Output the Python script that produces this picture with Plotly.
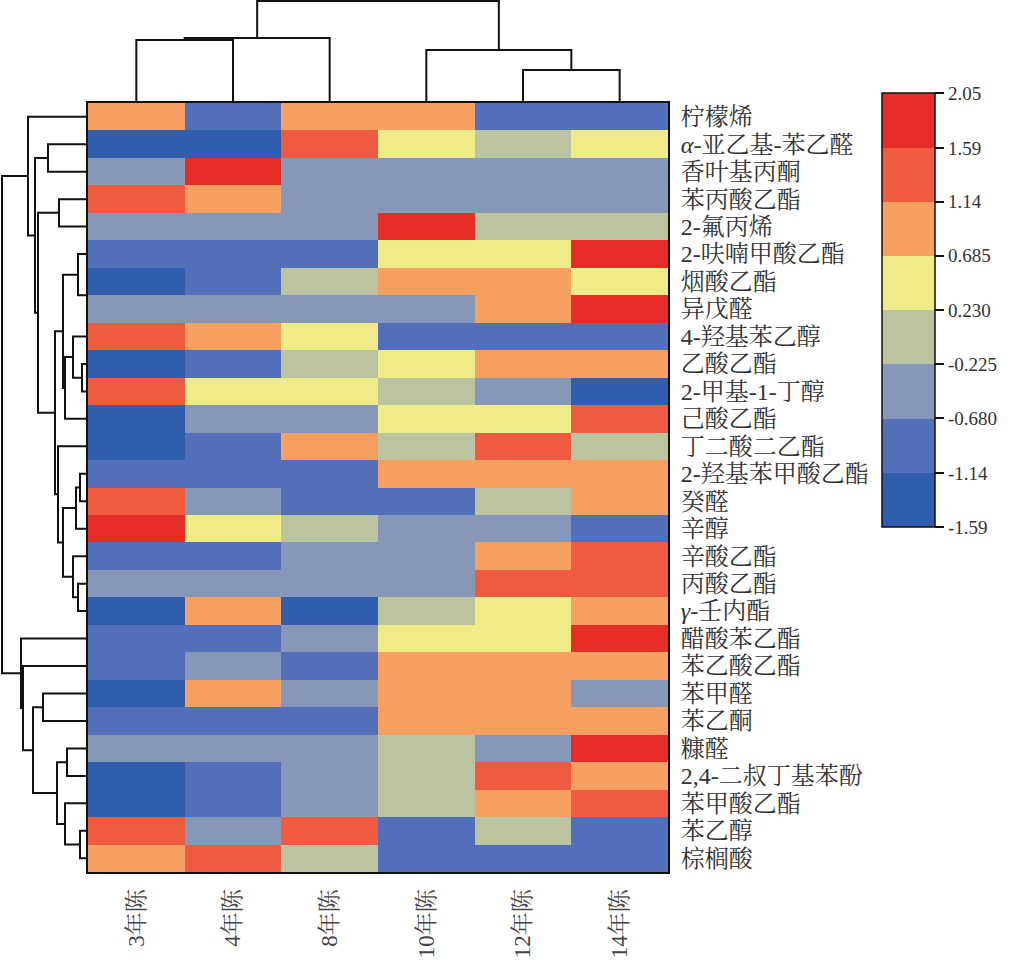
import plotly.graph_objects as go

# ---------------- data ----------------
years = ["3年陈", "4年陈", "8年陈", "10年陈", "12年陈", "14年陈"]
compounds = [
    "柠檬烯", "<i>α</i>-亚乙基-苯乙醛", "香叶基丙酮", "苯丙酸乙酯", "2-氟丙烯",
    "2-呋喃甲酸乙酯", "烟酸乙酯", "异戊醛", "4-羟基苯乙醇", "乙酸乙酯",
    "2-甲基-1-丁醇", "己酸乙酯", "丁二酸二乙酯", "2-羟基苯甲酸乙酯", "癸醛",
    "辛醇", "辛酸乙酯", "丙酸乙酯", "<i>γ</i>-壬内酯", "醋酸苯乙酯",
    "苯乙酸乙酯", "苯甲醛", "苯乙酮", "糠醛", "2,4-二叔丁基苯酚",
    "苯甲酸乙酯", "苯乙醇", "棕榈酸",
]

# standardized values per year
v3 = [0.91, -1.36, -0.45, 1.37, -0.45, -0.91, -1.36, -0.45, 1.37, -1.36,
      1.37, -1.36, -1.36, -0.91, 1.37, 1.82, -0.91, -0.45, -1.36, -0.91,
      -0.91, -1.36, -0.91, -0.45, -1.36, -1.36, 1.37, 0.91]
v4 = [-0.91, -1.36, 1.82, 0.91, -0.45, -0.91, -0.91, -0.45, 0.91, -0.91,
      0.46, -0.45, -0.91, -0.91, -0.45, 0.46, -0.91, -0.45, 0.91, -0.91,
      -0.45, 0.91, -0.91, -0.45, -0.91, -0.91, -0.45, 1.37]
v8 = [0.91, 1.37, -0.45, -0.45, -0.45, -0.91, 0.00, -0.45, 0.46, 0.00,
      0.46, -0.45, 0.91, -0.91, -0.91, 0.00, -0.45, -0.45, -1.36, -0.45,
      -0.91, -0.45, -0.91, -0.45, -0.45, -0.45, 1.37, 0.00]
v10 = [0.91, 0.46, -0.45, -0.45, 1.82, 0.46, 0.91, -0.45, -0.91, 0.46,
       0.00, 0.46, 0.00, 0.91, -0.91, -0.45, -0.45, -0.45, 0.00, 0.46,
       0.91, 0.91, 0.91, 0.00, 0.00, 0.00, -0.91, -0.91]
v12 = [-0.91, 0.00, -0.45, -0.45, 0.00, 0.46, 0.91, 0.91, -0.91, 0.91,
       -0.45, 0.46, 1.37, 0.91, 0.00, -0.45, 0.91, 1.37, 0.46, 0.46,
       0.91, 0.91, 0.91, -0.45, 1.37, 0.91, 0.00, -0.91]
v14 = [-0.91, 0.46, -0.45, -0.45, 0.00, 1.82, 0.46, 1.82, -0.91, 0.91,
       -1.36, 1.37, 0.00, 0.91, 0.91, -0.91, 1.37, 1.37, 0.91, 1.82,
       0.91, -0.45, 0.91, 1.82, 0.91, 1.37, -0.91, -0.91]

# colour-bar bins
bin_edges = [-1.59, -1.14, -0.680, -0.225, 0.230, 0.685, 1.14, 1.59, 2.05]
bin_labels = ["-1.59", "-1.14", "-0.680", "-0.225", "0.230", "0.685", "1.14", "1.59", "2.05"]
bin_colors = ["#305ead", "#536fb9", "#8797b7", "#bcc3a0", "#eeeb88",
              "#f59f61", "#ee5b40", "#e72d28"]

# hierarchical clustering (scipy-style: [a, b, height]; ids >= n are earlier merges)
row_linkage = [
    [6, 7, 1], [9, 10, 6], [8, 29, 15], [30, 11, 23], [5, 28, 10],
    [32, 31, 25], [13, 14, 8], [34, 15, 12], [17, 18, 10], [16, 36, 15],
    [35, 37, 25], [12, 38, 30], [33, 39, 33], [3, 4, 29], [41, 40, 50],
    [1, 2, 40], [43, 42, 53], [0, 44, 60], [26, 27, 8], [25, 46, 23],
    [23, 24, 21], [48, 47, 31], [21, 22, 45], [50, 49, 55], [20, 51, 65],
    [19, 52, 67], [45, 53, 86],
]
col_linkage = [[0, 1, 63], [6, 2, 65], [4, 5, 33], [3, 8, 53], [7, 9, 102]]


def dendro(linkage, n):
    pos = {i: float(i) for i in range(n)}
    hgt = {i: 0.0 for i in range(n)}
    hs, ps = [], []
    for k, (a, b, h) in enumerate(linkage):
        hs += [hgt[a], h, h, hgt[b], None]
        ps += [pos[a], pos[a], pos[b], pos[b], None]
        pos[n + k] = (pos[a] + pos[b]) / 2
        hgt[n + k] = h
    return hs, ps


z = [list(r) for r in zip(v3, v4, v8, v10, v12, v14)]
nr, nc = len(compounds), len(years)

zmin, zmax = bin_edges[0], bin_edges[-1]
cs = []
for i, c in enumerate(bin_colors):
    cs.append([(bin_edges[i] - zmin) / (zmax - zmin), c])
    cs.append([(bin_edges[i + 1] - zmin) / (zmax - zmin), c])

W, H = 1012, 966
X0, X1 = 88 / W, 668 / W
Y0, Y1 = (H - 872) / H, (H - 103) / H

serif = "Liberation Serif, Noto Serif CJK SC, Noto Sans CJK SC, serif"

fig = go.Figure()
fig.add_trace(go.Heatmap(
    z=z, x=list(range(nc)), y=list(range(nr)),
    zmin=zmin - 1e-4, zmax=zmax + 1e-4, colorscale=cs, xgap=0, ygap=0,
    hoverinfo="skip",
    colorbar=dict(
        x=882 / W, xanchor="left", xpad=0, ypad=0,
        y=(H - 93) / H, yanchor="top", len=434, lenmode="pixels",
        thickness=53, thicknessmode="pixels",
        outlinewidth=1.5, outlinecolor="#111",
        tickvals=bin_edges, ticktext=bin_labels,
        ticks="outside", ticklen=9, tickwidth=1.5, tickcolor="#111",
        tickfont=dict(family=serif, size=19, color="#333"),
    ),
))

ch, cp = dendro(col_linkage, nc)
fig.add_trace(go.Scatter(x=cp, y=ch, mode="lines", xaxis="x2", yaxis="y2",
                         line=dict(color="#111", width=2), cliponaxis=False,
                         hoverinfo="skip", showlegend=False))
rh, rp = dendro(row_linkage, nr)
fig.add_trace(go.Scatter(x=rh, y=rp, mode="lines", xaxis="x3", yaxis="y3",
                         line=dict(color="#111", width=2), cliponaxis=False,
                         hoverinfo="skip", showlegend=False))

fig.update_layout(
    width=W, height=H, margin=dict(l=0, r=0, t=0, b=0),
    paper_bgcolor="white", plot_bgcolor="white", showlegend=False,
    font=dict(family=serif),
    xaxis=dict(domain=[X0, X1], range=[-0.5, nc - 0.5], tickvals=list(range(nc)),
               ticktext=years, tickangle=-90, showline=True, mirror=True,
               linecolor="#111", linewidth=2, ticks="", showgrid=False, zeroline=False,
               tickfont=dict(family=serif, size=23, color="#444"),
               ticklabelstandoff=6, anchor="y"),
    yaxis=dict(domain=[Y0, Y1], range=[nr - 0.5, -0.5], tickvals=list(range(nr)),
               ticktext=compounds, side="right", showline=True, mirror=True,
               linecolor="#111", linewidth=2, ticks="", showgrid=False, zeroline=False,
               tickfont=dict(family=serif, size=24, color="#333"),
               ticklabelstandoff=6, anchor="x"),
    xaxis2=dict(domain=[X0, X1], range=[-0.5, nc - 0.5], visible=False, anchor="y2"),
    yaxis2=dict(domain=[Y1, 1], range=[0, 103], visible=False, anchor="x2"),
    xaxis3=dict(domain=[0, X0], range=[88, 0], visible=False, anchor="y3"),
    yaxis3=dict(domain=[Y0, Y1], range=[nr - 0.5, -0.5], visible=False, anchor="x3"),
)

fig.write_html("out.html", config={"displayModeBar": False},
               post_script="document.body.style.margin='0';document.body.style.overflow='hidden';")
